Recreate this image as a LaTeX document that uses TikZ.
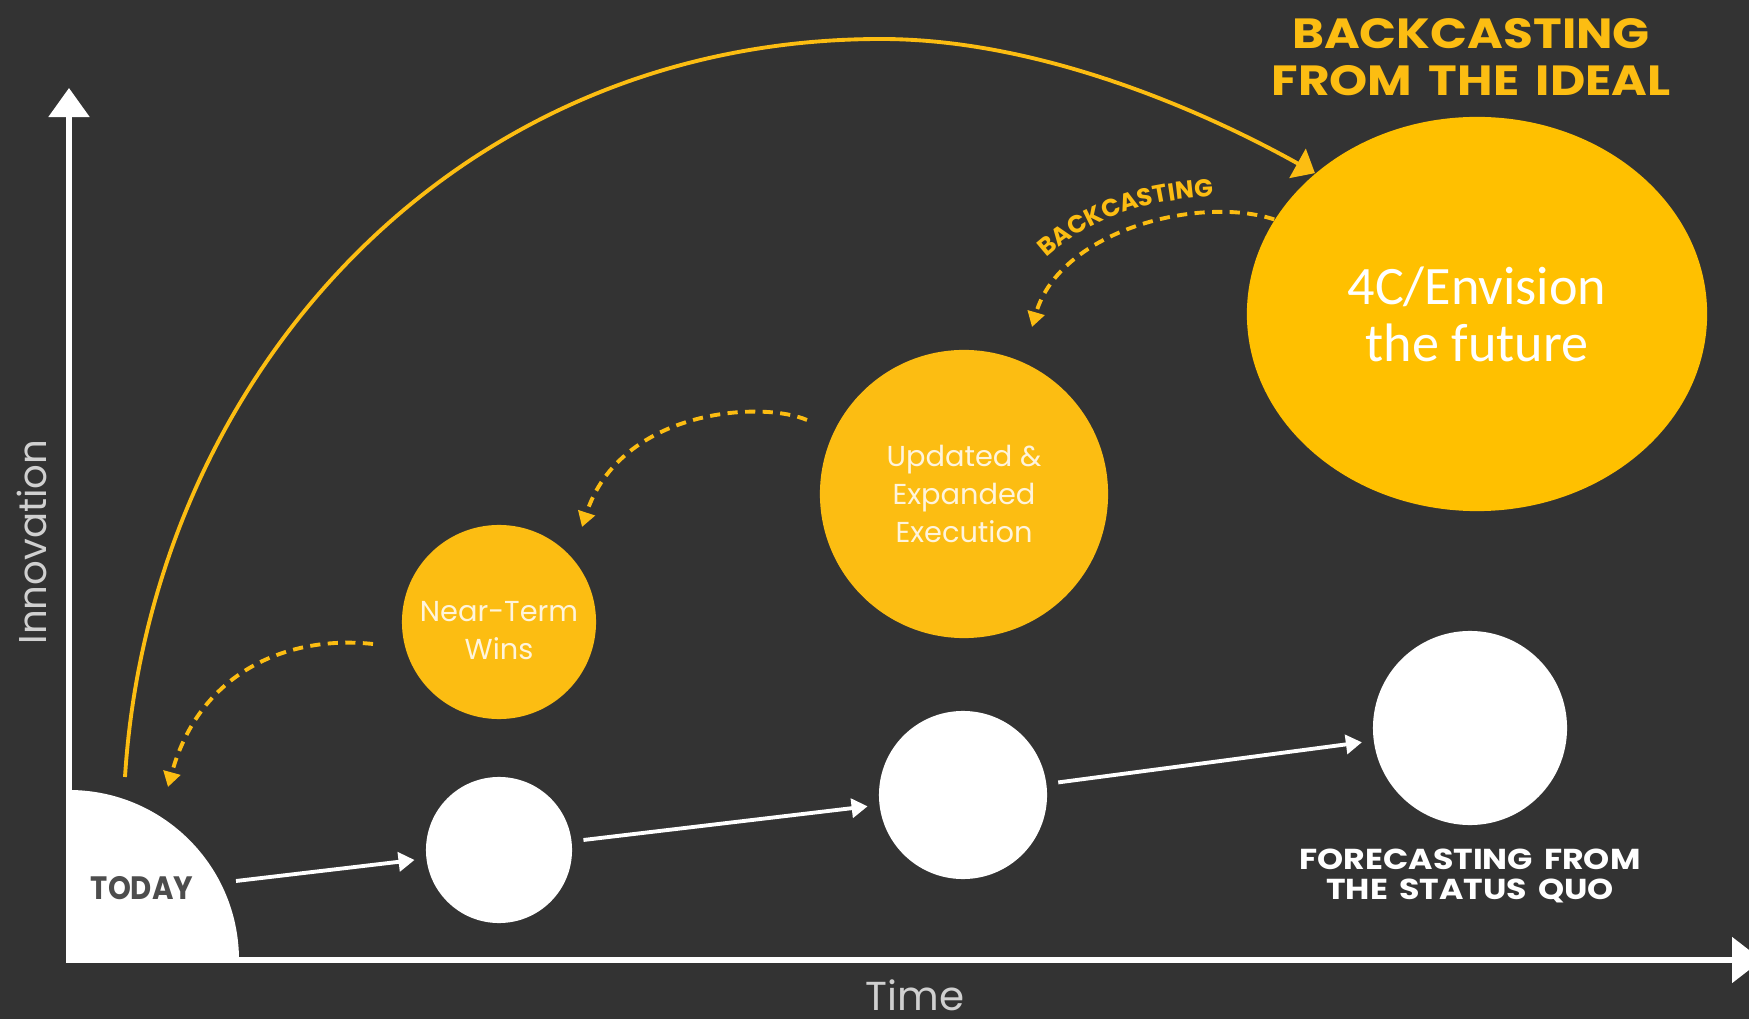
\documentclass[tikz,border=0pt]{standalone}
\usepackage{fontspec}
\setmainfont{Poppins}
\newfontfamily\calib{Carlito}
\newfontfamily\widefont[FakeStretch=1.15,WordSpace=1.6]{Poppins}
\newfontfamily\narrowfont[FakeStretch=0.9]{Poppins}
\usepackage{tikz}
\usetikzlibrary{positioning,arrows.meta,shapes.geometric,decorations.text}
\definecolor{bg}{HTML}{333333}
\definecolor{gold}{HTML}{FCBD12}
\definecolor{office}{HTML}{FFC000}
\definecolor{cream}{HTML}{FFF4DC}
\definecolor{axlab}{HTML}{D0D0D0}
\definecolor{tdgray}{HTML}{4D4D4D}
\tikzstyle{axis} = [white, line width=1.5pt, {Triangle[length=0.29cm,width=0.4cm]}-{Triangle[length=0.3cm,width=0.45cm]}]
\tikzstyle{warrow} = [white, line width=1.1pt, -{Triangle[length=0.16cm,width=0.19cm]}]
\tikzstyle{darrow} = [gold, line width=1.1pt, dash pattern=on 2.9pt off 2.1pt, -{Triangle[length=0.15cm,width=0.17cm]}]
\tikzstyle{bigarc} = [gold, line width=1.1pt, -{Triangle[length=0.2cm,width=0.33cm]}]

\begin{document}
\begin{tikzpicture}[x=0.01cm, y=-0.01cm]
\tikzset{%
	ball/.style = {circle, fill=white, inner sep=0pt, outer sep=0.12cm},
	sun/.style = {circle, fill=gold, inner sep=0pt, text=cream, align=center, font=\fontsize{8.2}{10.8}\selectfont},
	suntext/.style = {inner sep=0pt, text=cream, align=center, font=\fontsize{8.2}{10.8}\selectfont},
	fcast/.style = {align=center, inner sep=0pt, font=\widefont\bfseries\fontsize{8.2}{8.5}\selectfont}
}
\fill [bg] (0,0) rectangle (1749,1019);
\useasboundingbox (0,0) rectangle (1749,1019);

\coordinate (ytop) at (69,88);
\coordinate (xend) at (1762,960);
\draw [axis] (ytop) |- (xend);
\fill [white] (69,790) arc [start angle=-90, end angle=0, radius=170] -- (69,960) -- cycle;
\node (td) [text=tdgray, font=\narrowfont\bfseries\fontsize{9.2}{9.5}\selectfont] at (142,888) {TODAY};

\node (w1) [ball, minimum size=1.46cm] at (499,850) {};
\node (w2) [ball, minimum size=1.68cm] at (963,795) {};
\node (w3) [ball, minimum size=1.94cm] at (1470,728) {};
\node (fc) [fcast, text=white, below=0.11cm of w3] {FORECASTING FROM\\THE STATUS QUO};

\node (y1) [sun, minimum size=1.94cm] at (499,622) {};
\node (y1t) [suntext] at (499,631) {Near-Term\\Wins};
\node (y2) [sun, minimum size=2.88cm] at (964,494) {Updated \&\\Expanded\\Execution};
\node (ev) [ellipse, fill=office, minimum width=4.6cm, minimum height=3.94cm, inner sep=0pt,
	text=white, align=center, font=\calib\fontsize{15.4}{16.2}\selectfont] at (1477,314) {4C/Envision\\the future};

\node (hd) [text=gold, align=center, font=\widefont\bfseries\fontsize{12}{13.4}\selectfont] at (1471,57) {BACKCASTING\\FROM THE IDEAL};
\node (iy) [rotate=90, text=axlab, font=\fontsize{11}{12}\selectfont] at (32,542) {Innovation};
\node (tx) [text=axlab, font=\fontsize{11.5}{12}\selectfont] at (915,995) {Time};

\coordinate (te) at (236,881);
\draw [warrow] (te) -- (w1);
\draw [warrow] (w1) -- (w2);
\draw [warrow] (w2) -- (w3);

\coordinate (as) at (125,777);
\draw [bigarc] (as) .. controls (150,380) and (450,39) .. (881,39) .. controls (1050,39) and (1220,120) .. (ev.139);

\coordinate (b1e) at (1032,327);
\coordinate (b2s) at (807,420);
\coordinate (b2e) at (582,527);
\coordinate (b3s) at (373,644);
\coordinate (b3e) at (168,787);
\draw [darrow] (ev.155) .. controls (1200,195) and (1060,230) .. (b1e);
\draw [darrow] (b2s) .. controls (760,400) and (620,410) .. (b2e);
\draw [darrow] (b3s) .. controls (290,635) and (200,670) .. (b3e);
\path [decorate, decoration={text along path, text align=center, text color=gold,
	text={|\bfseries\fontsize{7}{7}\selectfont|BACKCASTING}}]
	(1036,268) .. controls (1085,218) and (1150,196) .. (1228,197);
\end{tikzpicture}
\end{document}
